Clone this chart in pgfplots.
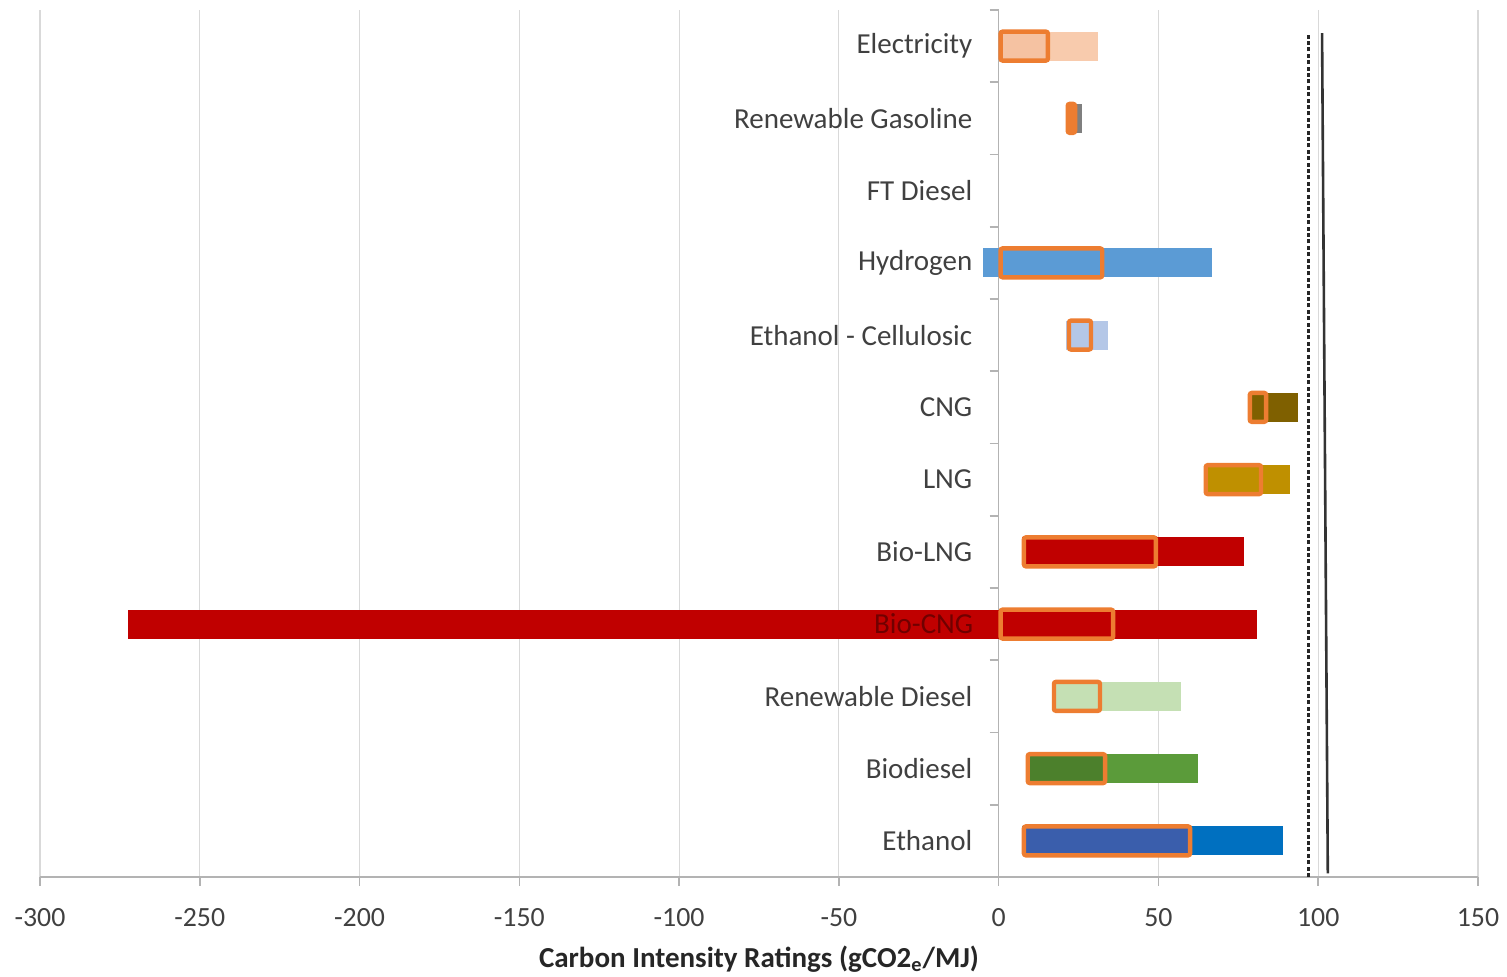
\documentclass[border=0pt]{standalone}
\usepackage{fontspec}
\setmainfont{Carlito}
\usepackage{pgfplots}
\pgfplotsset{compat=1.18}

\definecolor{axisgray}{HTML}{B3B3B3}
\definecolor{gridgray}{HTML}{D9D9D9}
\definecolor{labelgray}{HTML}{404040}
\definecolor{borange}{HTML}{ED7D31}
\definecolor{elecO}{HTML}{F8CBAD}
\definecolor{elecI}{HTML}{F5C2A2}
\definecolor{rgas}{HTML}{7F7F7F}
\definecolor{hydro}{HTML}{5B9BD5}
\definecolor{cellu}{HTML}{B4C7E7}
\definecolor{cng}{HTML}{7F6000}
\definecolor{lng}{HTML}{BF9000}
\definecolor{bioR}{HTML}{C00000}
\definecolor{bioText}{HTML}{700000}
\definecolor{rdsl}{HTML}{C5E0B4}
\definecolor{bdslO}{HTML}{5B9B3A}
\definecolor{bdslI}{HTML}{4C802C}
\definecolor{ethO}{HTML}{0070C0}
\definecolor{ethI}{HTML}{3A5EAC}

\begin{document}
\begin{tikzpicture}
\useasboundingbox (-20pt,-50pt) rectangle (733.5pt,438.5pt);
\begin{axis}[
    at={(0,0)}, anchor=south west,
    scale only axis, width=719pt, height=433.5pt,
    xmin=-300, xmax=150, ymin=-0.5, ymax=11.5,
    axis x line*=bottom, axis y line*=middle,
    axis line style={draw=axisgray, line width=0.8pt},
    hide obscured x ticks=false,
    xtick={-300,-250,...,150},
    xmajorgrids, grid style={draw=gridgray, line width=0.6pt},
    x tick style={draw=axisgray, line width=0.8pt},
    major tick length=4.5pt,
    tick align=outside,
    ytick={0,...,11},
    % Bio-CNG is written after the bars, since its bar runs over it
    yticklabels={Ethanol, Biodiesel, Renewable Diesel, {}, Bio-LNG, LNG, CNG, Ethanol - Cellulosic, Hydrogen, FT Diesel, Renewable Gasoline, Electricity},
    y tick style={draw=none},
    extra y ticks={-0.5,0.5,...,11.5},
    extra y tick labels={},
    extra y tick style={y tick style={draw=axisgray, line width=0.8pt}, tick align=outside},
    /pgf/number format/assume math mode=true,
    ticklabel style={font=\fontsize{13.9}{16}\selectfont, text=labelgray},
    yticklabel style={font=\fontsize{14.5}{17}\selectfont, inner sep=0pt, anchor=east, xshift=-8.5pt},
    xticklabel style={yshift=-7.5pt},
    xlabel={\textbf{Carbon Intensity Ratings (gCO2\textsubscript{e}/MJ)}},
    xlabel style={font=\fontsize{14.5}{17}\selectfont, text=black!85, yshift=-3pt},
    outer/.style={draw=none, fill=#1},
    inner/.style={fill=#1, draw=borange, line width=2.2pt, rounded corners=1pt},
]
% full range of each pathway
\addplot[outer=elecO] coordinates {(0,10.8) (31,10.8) (31,11.2) (0,11.2)} --cycle;
\addplot[outer=rgas]  coordinates {(21,9.8) (26.2,9.8) (26.2,10.2) (21,10.2)} --cycle;
\addplot[outer=hydro] coordinates {(-4.9,7.8) (66.8,7.8) (66.8,8.2) (-4.9,8.2)} --cycle;
\addplot[outer=cellu] coordinates {(21,6.8) (34.2,6.8) (34.2,7.2) (21,7.2)} --cycle;
\addplot[outer=cng]   coordinates {(78,5.8) (93.7,5.8) (93.7,6.2) (78,6.2)} --cycle;
\addplot[outer=lng]   coordinates {(64.2,4.8) (91.2,4.8) (91.2,5.2) (64.2,5.2)} --cycle;
\addplot[outer=bioR]  coordinates {(7.3,3.8) (76.8,3.8) (76.8,4.2) (7.3,4.2)} --cycle;
\addplot[outer=bioR]  coordinates {(-272.4,2.8) (80.8,2.8) (80.8,3.2) (-272.4,3.2)} --cycle;
\addplot[outer=rdsl]  coordinates {(16.7,1.8) (57,1.8) (57,2.2) (16.7,2.2)} --cycle;
\addplot[outer=bdslO] coordinates {(8.5,0.8) (62.3,0.8) (62.3,1.2) (8.5,1.2)} --cycle;
\addplot[outer=ethO]  coordinates {(7.3,-0.2) (89,-0.2) (89,0.2) (7.3,0.2)} --cycle;
% certified range (orange boxes)
\addplot[inner=elecI] coordinates {(0.6,10.8) (15.4,10.8) (15.4,11.2) (0.6,11.2)} --cycle;
\addplot[inner=borange] coordinates {(21.6,9.8) (23.9,9.8) (23.9,10.2) (21.6,10.2)} --cycle;
\addplot[inner=hydro] coordinates {(0.6,7.8) (32.4,7.8) (32.4,8.2) (0.6,8.2)} --cycle;
\addplot[inner=cellu] coordinates {(22,6.8) (28.9,6.8) (28.9,7.2) (22,7.2)} --cycle;
\addplot[inner=cng]   coordinates {(78.6,5.8) (83.7,5.8) (83.7,6.2) (78.6,6.2)} --cycle;
\addplot[inner=lng]   coordinates {(64.8,4.8) (82.1,4.8) (82.1,5.2) (64.8,5.2)} --cycle;
\addplot[inner=bioR]  coordinates {(7.9,3.8) (49.2,3.8) (49.2,4.2) (7.9,4.2)} --cycle;
\addplot[inner=bioR]  coordinates {(0.6,2.8) (35.8,2.8) (35.8,3.2) (0.6,3.2)} --cycle;
\addplot[inner=rdsl]  coordinates {(17.3,1.8) (31.7,1.8) (31.7,2.2) (17.3,2.2)} --cycle;
\addplot[inner=bdslI] coordinates {(9.1,0.8) (33.3,0.8) (33.3,1.2) (9.1,1.2)} --cycle;
\addplot[inner=ethI]  coordinates {(7.9,-0.2) (59.9,-0.2) (59.9,0.2) (7.9,0.2)} --cycle;
% reference lines
\addplot[black!85, line width=1.5pt, dash pattern=on 2pt off 1.2pt] coordinates {(96.8,-0.5) (96.8,11.19)};
\addplot[black!80, line width=1.3pt] coordinates {(101.2,11.18) (103,-0.45)};
\node[font=\fontsize{14.5}{17}\selectfont, text=bioText, inner sep=0pt, anchor=east]
    at ([xshift=-12.5pt]axis cs:0,3) {Bio-CNG};
\end{axis}
\end{tikzpicture}
\end{document}
